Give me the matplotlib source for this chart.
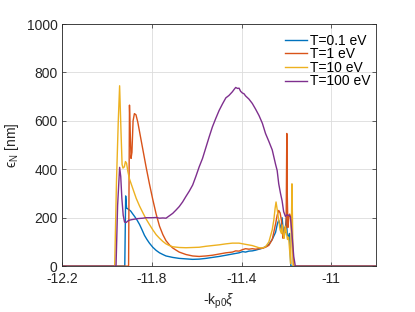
import matplotlib
matplotlib.use('Agg')
import matplotlib.pyplot as plt

plt.rcParams['font.family'] = ['Liberation Sans', 'DejaVu Sans']
plt.rcParams['mathtext.fontset'] = 'custom'
plt.rcParams['mathtext.rm'] = 'Liberation Sans'
plt.rcParams['mathtext.it'] = 'Liberation Sans:italic'

# T = 0.1 eV
x_01 = [-12.2, -11.921, -11.917, -11.913, -11.905, -11.895, -11.885, -11.877, -11.866, -11.855,
        -11.844, -11.833, -11.822, -11.811, -11.796, -11.781, -11.766, -11.751, -11.737, -11.707,
        -11.678, -11.648, -11.618, -11.589, -11.559, -11.530, -11.500, -11.470, -11.441, -11.411,
        -11.395, -11.382, -11.367, -11.352, -11.337, -11.322, -11.307, -11.293, -11.278, -11.263,
        -11.248, -11.240, -11.234, -11.228, -11.222, -11.219, -11.215, -11.210, -11.205, -11.200,
        -11.196, -11.190, -11.186, -11.183, -11.180, -10.8]
y_01 = [0, 0, 290, 240, 235, 228, 215, 205, 190, 172,
        150, 127, 110, 95, 78, 65, 55, 48, 42, 36,
        32, 30, 28, 29, 32, 36, 40, 45, 50, 55,
        60, 58, 62, 63, 66, 70, 74, 80, 90, 110,
        140, 175, 190, 170, 150, 200, 160, 120, 150, 200,
        130, 120, 135, 60, 0, 0]

# T = 1 eV
x_1 = [-12.2, -11.904, -11.900, -11.897, -11.893, -11.889, -11.884, -11.878, -11.871, -11.863,
       -11.855, -11.840, -11.826, -11.811, -11.796, -11.781, -11.766, -11.751, -11.737, -11.722,
       -11.707, -11.692, -11.678, -11.648, -11.618, -11.589, -11.559, -11.530, -11.500, -11.470,
       -11.441, -11.426, -11.411, -11.396, -11.382, -11.367, -11.352, -11.337, -11.322, -11.307,
       -11.293, -11.278, -11.263, -11.256, -11.248, -11.241, -11.234, -11.228, -11.222, -11.219,
       -11.215, -11.211, -11.207, -11.204, -11.201, -11.198, -11.196, -11.193, -11.189, -11.185,
       -11.180, -11.175, -11.167, -10.8]
y_1 = [0, 0, 665, 560, 445, 470, 600, 630, 625, 595,
       555, 480, 410, 340, 275, 215, 165, 130, 105, 88,
       75, 66, 58, 48, 42, 40, 42, 45, 50, 55,
       58, 63, 62, 68, 72, 70, 72, 70, 72, 74,
       78, 86, 110, 140, 175, 210, 230, 220, 190, 150,
       115, 125, 160, 140, 170, 548, 300, 160, 200, 215,
       200, 120, 0, 0]

# T = 10 eV
x_10 = [-12.2, -11.966, -11.958, -11.950, -11.944, -11.938, -11.933, -11.929, -11.923, -11.918,
        -11.913, -11.907, -11.900, -11.885, -11.870, -11.855, -11.840, -11.826, -11.811, -11.796,
        -11.781, -11.766, -11.751, -11.737, -11.722, -11.707, -11.678, -11.648, -11.618, -11.589,
        -11.559, -11.530, -11.500, -11.470, -11.441, -11.411, -11.382, -11.352, -11.322, -11.307,
        -11.293, -11.278, -11.263, -11.256, -11.250, -11.246, -11.241, -11.234, -11.228, -11.222,
        -11.218, -11.214, -11.210, -11.205, -11.200, -11.195, -11.190, -11.185, -11.181, -11.177,
        -11.175, -11.172, -11.170, -10.8]
y_10 = [0, 0, 350, 600, 745, 560, 420, 405, 410, 432,
        425, 390, 360, 320, 280, 248, 220, 195, 172, 150,
        130, 115, 102, 92, 85, 80, 77, 76, 77, 78,
        82, 85, 88, 92, 95, 95, 90, 85, 76, 75,
        80, 100, 150, 190, 240, 265, 235, 190, 150, 135,
        170, 130, 115, 165, 140, 110, 120, 60, 10, 200,
        340, 150, 0, 0]

# T = 100 eV
x_100 = [-12.2, -11.960, -11.953, -11.944, -11.939, -11.934, -11.928, -11.922, -11.915, -11.908,
         -11.900, -11.890, -11.878, -11.866, -11.855, -11.840, -11.826, -11.811, -11.796, -11.781,
         -11.766, -11.751, -11.737, -11.722, -11.707, -11.692, -11.678, -11.663, -11.648, -11.633,
         -11.618, -11.604, -11.589, -11.574, -11.559, -11.544, -11.530, -11.515, -11.500, -11.485,
         -11.470, -11.456, -11.441, -11.433, -11.426, -11.418, -11.411, -11.404, -11.396, -11.389,
         -11.382, -11.367, -11.352, -11.337, -11.322, -11.307, -11.293, -11.278, -11.263, -11.248,
         -11.241, -11.234, -11.226, -11.219, -11.212, -11.204, -11.197, -11.189, -11.182, -11.175,
         -11.167, -11.160, -10.8]
y_100 = [0, 0, 250, 408, 370, 280, 210, 182, 180, 186,
         190, 192, 194, 196, 197, 198, 200, 200, 200, 201,
         198, 199, 198, 208, 218, 232, 246, 265, 288, 310,
         335, 370, 410, 445, 490, 535, 575, 610, 643, 670,
         695, 705, 720, 730, 738, 734, 735, 722, 715, 712,
         703, 690, 672, 648, 622, 590, 548, 515, 480, 420,
         395, 340, 300, 270, 225, 205, 212, 210, 205, 135,
         40, 0, 0]

labels = ['T=0.1 eV', 'T=1 eV', 'T=10 eV', 'T=100 eV']
colors = ['#0072BD', '#D95319', '#EDB120', '#7E2F8E']

fig = plt.figure(figsize=(4.15, 3.12), dpi=100)
ax = fig.add_axes([0.150, 0.147, 0.756, 0.776])

for xs, ys, lab, c in zip([x_01, x_1, x_10, x_100], [y_01, y_1, y_10, y_100], labels, colors):
    ax.plot(xs, ys, color=c, lw=1.0, label=lab)

ax.set_xlim(-12.2, -10.8)
ax.set_ylim(0, 1000)
ax.set_xticks([-12.2, -11.8, -11.4, -11])
ax.set_xticklabels(['-12.2', '-11.8', '-11.4', '-11'])
ax.set_yticks([0, 200, 400, 600, 800, 1000])
ax.grid(True, color='#dcdcdc', lw=0.6)
ax.set_axisbelow(True)
ax.tick_params(direction='in', top=True, right=True, labelsize=10, colors='#262626', length=3, width=0.5)
ax.tick_params(axis='x', pad=4)
for s in ax.spines.values():
    s.set_color('#262626')
    s.set_linewidth(0.6)

ax.set_xlabel(r'-k$_{\rm p0}\xi$', fontsize=10, color='#262626')
ax.set_ylabel('\u03f5$_{\\rm N}$ [nm]', fontsize=10, color='#262626')
ax.legend(loc='upper right', frameon=False, fontsize=10, handlelength=1.6,
          handletextpad=0.15, labelspacing=-0.03, borderaxespad=0.3,
          bbox_to_anchor=(1.012, 1.0))

plt.savefig('out.png', dpi=100)
